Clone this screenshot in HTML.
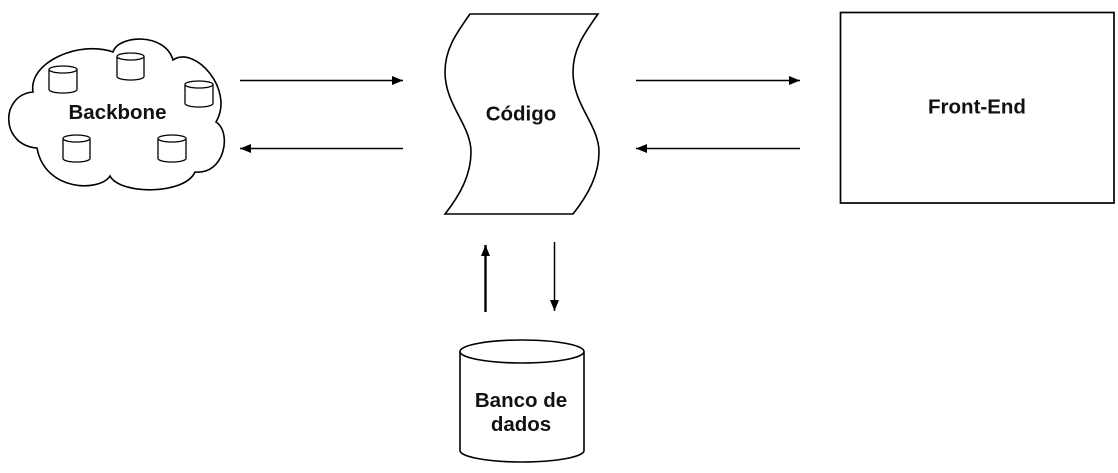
<!DOCTYPE html>
<html><head><meta charset="utf-8"><style>
html,body{margin:0;padding:0;background:#fff;}
svg{display:block;}
text{font-family:"Liberation Sans",Arial,sans-serif;font-weight:bold;fill:#111;}
</style></head><body>
<svg width="1118" height="473" viewBox="0 0 1118 473" xmlns="http://www.w3.org/2000/svg">
<defs>
<marker id="ah" markerWidth="12" markerHeight="10" refX="11" refY="4.5" orient="auto" markerUnits="userSpaceOnUse">
<path d="M0,0 L11,4.5 L0,9 Z" fill="#000"/>
</marker>
</defs>
<g fill="#fff" stroke="#000" stroke-width="1.6">
<!-- cloud -->
<path d="M33,92 C28,62 80,40 113,52 C118,35 165,32 173,60 C195,45 235,90 216,122 C232,132 225,175 195,172 C185,195 120,195 110,176 C100,192 45,192 37,148 C0,145 0,95 33,92 Z"/>
</g>
<g fill="#fff" stroke="#000" stroke-width="1.3">
<path d="M49,69.5 L49,89.5 A14,3.5 0 0 0 77,89.5 L77,69.5"/><ellipse cx="63" cy="69.5" rx="14" ry="3.5"/>
<path d="M117,56.5 L117,76.5 A13.5,3.5 0 0 0 144,76.5 L144,56.5"/><ellipse cx="130.5" cy="56.5" rx="13.5" ry="3.5"/>
<path d="M185,84.5 L185,103.5 A14,3.5 0 0 0 213,103.5 L213,84.5"/><ellipse cx="199" cy="84.5" rx="14" ry="3.5"/>
<path d="M63,138.5 L63,158.5 A13.5,3.5 0 0 0 90,158.5 L90,138.5"/><ellipse cx="76.5" cy="138.5" rx="13.5" ry="3.5"/>
<path d="M158,138.5 L158,158.5 A14,3.5 0 0 0 186,158.5 L186,138.5"/><ellipse cx="172" cy="138.5" rx="14" ry="3.5"/>
</g>
<text x="117.5" y="119" font-size="20.5" text-anchor="middle">Backbone</text>

<!-- Codigo shape -->
<path d="M470,14 L598,14 C583,35 573,50 573,72 C573,105 599,125 599,152 C599,175 588,195 573,214 L445,214 C460,195 471,175 471,152 C471,125 445,105 445,72 C445,50 455,35 470,14 Z" fill="#fff" stroke="#000" stroke-width="1.6"/>
<text x="521" y="120.5" font-size="20.5" text-anchor="middle">Código</text>

<!-- Front-End -->
<rect x="840.5" y="12.5" width="273.5" height="190.5" fill="#fff" stroke="#000" stroke-width="1.7"/>
<text x="977" y="113.5" font-size="20.5" text-anchor="middle">Front-End</text>

<!-- database -->
<g fill="#fff" stroke="#000" stroke-width="1.6">
<path d="M460,351.5 L460,450.5 A62,11.5 0 0 0 584,450.5 L584,351.5"/>
<ellipse cx="522" cy="351.5" rx="62" ry="11.5"/>
</g>
<text x="521" y="407" font-size="20.5" text-anchor="middle">Banco de</text>
<text x="521" y="431" font-size="20.5" text-anchor="middle">dados</text>

<!-- arrows -->
<g stroke="#000" stroke-width="1.5" fill="none">
<line x1="240" y1="80.5" x2="403" y2="80.5" marker-end="url(#ah)"/>
<line x1="403" y1="148.5" x2="240" y2="148.5" marker-end="url(#ah)"/>
<line x1="636" y1="80.5" x2="800" y2="80.5" marker-end="url(#ah)"/>
<line x1="800" y1="148.5" x2="636" y2="148.5" marker-end="url(#ah)"/>
<line x1="554.5" y1="242" x2="554.5" y2="311" marker-end="url(#ah)"/>
<line x1="485.5" y1="312" x2="485.5" y2="245" stroke-width="2.4" marker-end="url(#ah)"/>
</g>
</svg>
</body></html>
